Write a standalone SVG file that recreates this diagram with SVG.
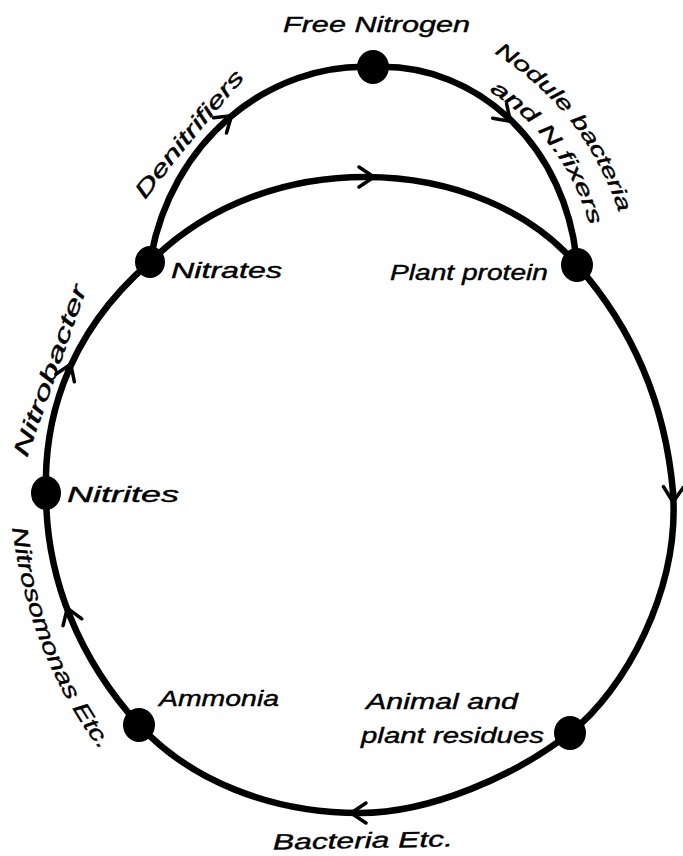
<svg xmlns="http://www.w3.org/2000/svg" width="683" height="856" viewBox="0 0 683 856">
<style>
.ln{fill:none;stroke:#000;stroke-width:6.5;stroke-linecap:round}
.ar{fill:none;stroke:#000;stroke-width:3.5;stroke-linecap:round;stroke-linejoin:miter}
.dot{fill:#000}
.gp{fill:none;stroke:none}
text{font-family:"Liberation Sans",Arial,sans-serif;font-style:italic;font-size:22px;fill:#000;stroke:#000;stroke-width:0.4}
.sm{font-size:20.5px}
</style>
<defs>
<path id="chev" class="ar" d="M-13,-10 L2,0 L-13,10"/>
<path id="p-denit" class="gp" d="M145,200 Q195,135 243,80"/>
<path id="p-nod1" class="gp" d="M494,53 Q585,110 619,213"/>
<path id="p-nod2" class="gp" d="M489,91 Q564,138 589,223"/>
<path id="p-nbac" class="gp" d="M27,458 Q58,370 88,285"/>
<path id="p-nsom" class="gp" d="M12,528 Q30,660 102,752"/>
</defs>
<rect width="683" height="856" fill="#fff"/>
<g id="connectors">
<path class="ln" d="M150,262 C210,202 290,177 365,177 C455,177 532,212 577,265"/>
<path class="ln" d="M577,265 C630,325 665,400 673,492"/>
<path class="ln" d="M673,492 C680,590 625,690 570,733"/>
<path class="ln" d="M570,733 C515,776 430,813 360,813 C270,813 190,780 139,725"/>
<path class="ln" d="M139,725 C80,660 46,580 46,493"/>
<path class="ln" d="M46,493 C44,430 60,340 150,262"/>
<path class="ln" d="M150,262 C170,140 270,62 373,67"/>
<path class="ln" d="M373,67 C480,62 568,150 577,265"/>
<use href="#chev" transform="translate(230,117) rotate(-40)"/>
<use href="#chev" transform="translate(509,120) rotate(44)"/>
<use href="#chev" transform="translate(372,177) rotate(0)"/>
<use href="#chev" transform="translate(673,500) rotate(92)"/>
<use href="#chev" transform="translate(353,813) rotate(180)"/>
<use href="#chev" transform="translate(68,610) rotate(-110)"/>
<use href="#chev" transform="translate(70,366) rotate(-68)"/>
<text><textPath href="#p-denit" textLength="158" lengthAdjust="spacingAndGlyphs">Denitrifiers</textPath></text>
<text class="sm"><textPath href="#p-nod1" textLength="207" lengthAdjust="spacingAndGlyphs">Nodule bacteria</textPath></text>
<text class="sm"><textPath href="#p-nod2" textLength="172" lengthAdjust="spacingAndGlyphs">and N.fixers</textPath></text>
<text><textPath href="#p-nbac" textLength="180" lengthAdjust="spacingAndGlyphs">Nitrobacter</textPath></text>
<text><textPath href="#p-nsom" textLength="242" lengthAdjust="spacingAndGlyphs">Nitrosomonas Etc.</textPath></text>
<text x="273" y="848" transform="rotate(-1 363 846)" textLength="180" lengthAdjust="spacingAndGlyphs">Bacteria Etc.</text>
</g>
<g id="free-nitrogen"><ellipse class="dot" cx="373" cy="67" rx="16" ry="17"/><text x="283" y="32" font-size="23" textLength="187" lengthAdjust="spacingAndGlyphs">Free Nitrogen</text></g>
<g id="nitrates"><ellipse class="dot" cx="150" cy="262" rx="15" ry="16"/><text x="171" y="278" textLength="111" lengthAdjust="spacingAndGlyphs">Nitrates</text></g>
<g id="plant-protein"><ellipse class="dot" cx="577" cy="265" rx="16" ry="17"/><text x="390" y="280" textLength="158" lengthAdjust="spacingAndGlyphs">Plant protein</text></g>
<g id="nitrites"><ellipse class="dot" cx="46" cy="493" rx="15" ry="17"/><text x="67" y="502" textLength="112" lengthAdjust="spacingAndGlyphs">Nitrites</text></g>
<g id="ammonia"><ellipse class="dot" cx="139" cy="725" rx="16" ry="17"/><text x="159" y="706" textLength="120" lengthAdjust="spacingAndGlyphs">Ammonia</text></g>
<g id="residues"><ellipse class="dot" cx="570" cy="733" rx="16" ry="17"/><text x="366" y="709" textLength="152" lengthAdjust="spacingAndGlyphs">Animal and</text><text x="361" y="743" textLength="183" lengthAdjust="spacingAndGlyphs">plant residues</text></g>
</svg>
